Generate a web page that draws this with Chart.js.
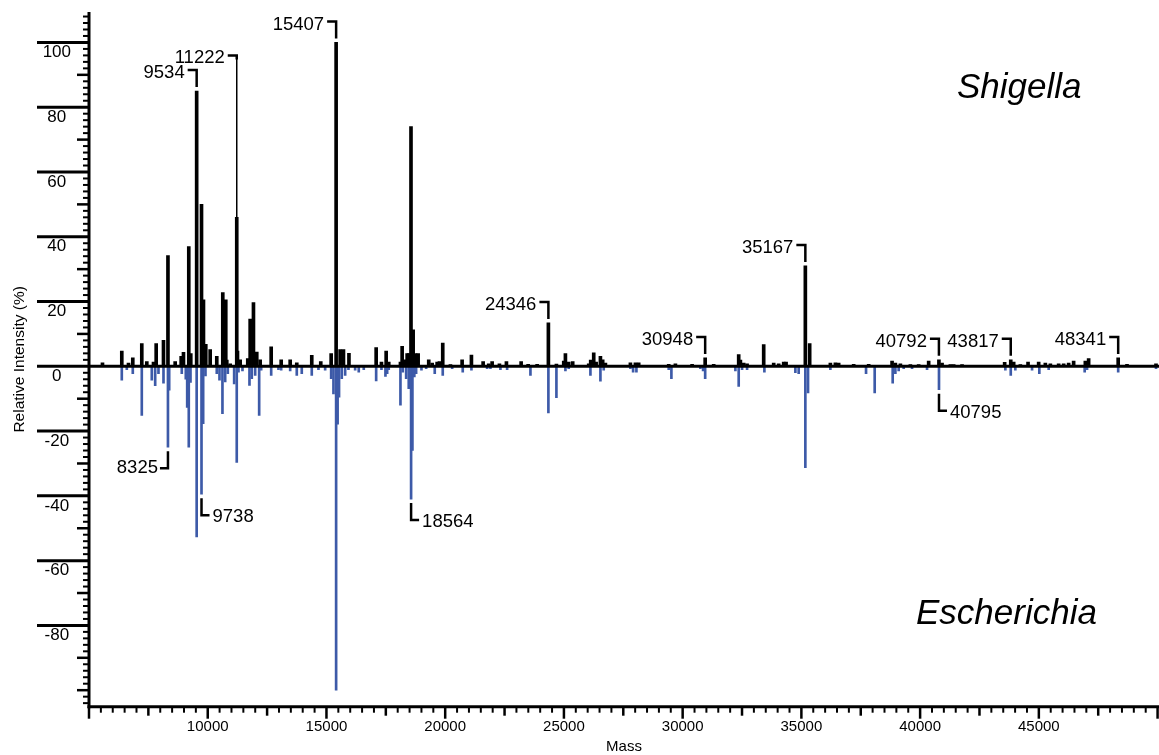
<!DOCTYPE html>
<html>
<head>
<meta charset="utf-8">
<title>Shigella / Escherichia spectra</title>
<script src="https://cdn.jsdelivr.net/npm/chart.js@4.4.1/dist/chart.umd.min.js"></script>
<style>
  html, body { margin: 0; padding: 0; background: #fff; }
  #wrap { width: 1159px; height: 755px; }
</style>
</head>
<body>
<div id="wrap"><canvas id="spectrum" width="1159" height="755"></canvas></div>
<script>
/* ===== peak lists (mass, relative intensity %) ===== */
const shigellaMass = [
  5568, 6381, 6663, 6844, 7223, 7434, 7716, 7829, 8137, 8325, 8629, 8882, 8979, 9202, 9286,
  9534, 9738, 9821, 9918, 10103, 10381, 10634, 10760, 10802, 10945, 11222, 11253, 11366, 11686,
  11787, 11926, 12065, 12208, 12672, 13093, 13472, 13750, 14381, 14760, 15198, 15407, 15577,
  15716, 15947, 17093, 17316, 17514, 17623, 18116, 18187, 18297, 18398, 18465, 18560, 18651,
  18747, 18861, 19307, 19451, 19661, 19758, 19897, 20221, 20713, 21105, 21598, 21834, 21977,
  22284, 22579, 23198, 23493, 23872, 24346, 24684, 24992, 25063, 25202, 25370, 26044, 26128,
  26255, 26356, 26537, 26633, 26747, 27800, 28011, 28149, 29413, 29695, 30398, 30948, 31307,
  32360, 32432, 32570, 32713, 33413, 33834, 34044, 34255, 34356, 35167, 35349, 36221, 36432,
  36570, 37202, 37834, 38819, 38958, 39169, 39590, 39939, 40360, 40792, 40924, 41274, 41413,
  41766, 43560, 43817, 43940, 44221, 44545, 44992, 45274, 45485, 45834, 46045, 46255, 46465,
  46958, 47097, 48341, 48713, 49934
];
const shigellaIntensity = [
  1.1, 4.7, 1.0, 2.6, 7.0, 1.5, 1.3, 7.0, 8.0, 34.2, 1.5, 3.1, 4.3, 37, 3.9,
  85, 50, 20.5, 6.8, 5.2, 3.1, 22.8, 20.5, 1.9, 0.8, 46, 4.7, 2.0, 2.4,
  14.6, 19.7, 4.4, 2.0, 6.0, 2.0, 2.0, 1.1, 3.4, 1.5, 3.9, 100, 5.2,
  5.2, 4.0, 5.8, 1.3, 4.7, 1.3, 1.3, 6.2, 2.0, 3.9, 3.9, 74, 11.3,
  3.9, 3.9, 2.0, 1.0, 1.3, 1.5, 7.2, 0.5, 2.0, 3.5, 1.5, 0.8, 1.5,
  0.8, 1.5, 1.5, 0.6, 0.6, 13.4, 0.7, 1.6, 3.9, 1.3, 1.5, 0.8, 1.9,
  4.2, 1.3, 3.1, 2.0, 1.0, 1.1, 1.1, 1.1, 0.6, 0.8, 0.6, 2.6, 0.6,
  3.6, 1.9, 1.0, 0.8, 6.7, 1.0, 0.8, 1.3, 1.3, 31, 7.0, 1.0, 1.1,
  1.0, 0.6, 0.6, 1.6, 1.0, 0.8, 0.5, 0.5, 1.6, 2.0, 1.0, 0.5, 0.5,
  0.5, 1.2, 2.0, 1.3, 0.5, 1.3, 1.3, 1.0, 0.8, 0.8, 0.8, 1.0, 1.6,
  1.6, 2.4, 2.6, 0.6, 0.8
];

const escherichiaMass = [
  6381, 6592, 6844, 7223, 7644, 7787, 7926, 8137, 8325, 8377, 8907, 9076, 9135, 9202, 9274,
  9534, 9738, 9808, 9905, 10381, 10495, 10620, 10735, 10845, 11113, 11222, 11295, 11463, 11758,
  11855, 11998, 12166, 12250, 12672, 12979, 13093, 13472, 13750, 13960, 14381, 14663, 14945,
  15198, 15295, 15407, 15470, 15530, 15644, 15787, 15926, 16208, 16360, 16571, 17093, 17316,
  17484, 17556, 17623, 18116, 18213, 18356, 18465, 18564, 18620, 18700, 18776, 19000, 19198,
  19560, 19897, 20293, 20739, 21105, 21766, 21905, 22326, 22608, 23590, 24346, 24684, 25063,
  25202, 26116, 26537, 26676, 27800, 27914, 28053, 29413, 29526, 30747, 30861, 30948, 32221,
  32360, 32502, 32713, 33442, 34747, 34886, 35167, 35280, 36221, 37723, 38087, 38845, 38958,
  39097, 39308, 39660, 40292, 40795, 43590, 43817, 44010, 44714, 45020, 45414, 46930, 47030,
  48341, 49934
];
const escherichiaIntensity = [
  -4.3, -1.0, -2.3, -15.2, -4.3, -6.0, -2.3, -5.2, -25, -7.4, -2.3, -4.0, -12.7, -25, -5.0,
  -52.7, -39.5, -17.7, -3.0, -2.3, -4.3, -14.6, -4.8, -2.3, -5.4, -29.7, -1.8, -1.4, -5.9,
  -3.8, -2.8, -15.2, -1.2, -2.8, -1.0, -1.2, -1.4, -2.8, -2.3, -2.8, -1.0, -1.2,
  -3.8, -8.5, -100, -17.9, -9.5, -3.8, -2.8, -1.0, -1.2, -1.8, -1.0, -4.5, -1.0,
  -3.1, -2.3, -1.0, -12.0, -1.8, -3.8, -6.9, -41, -26, -3.3, -2.3, -1.2, -0.7,
  -2.3, -2.8, -0.7, -1.8, -1.2, -0.7, -0.7, -1.0, -1.0, -2.8, -14.4, -9.7, -1.4,
  -0.7, -2.8, -4.6, -1.2, -0.7, -1.8, -1.8, -1.0, -3.8, -0.7, -1.4, -3.8, -1.4,
  -6.2, -1.0, -1.0, -1.8, -2.0, -2.3, -31.3, -8.2, -1.0, -2.3, -8.2, -5.2, -2.3,
  -1.4, -0.7, -0.7, -1.0, -7.2, -1.2, -2.8, -1.2, -1.2, -2.3, -1.0, -1.8, -1.0,
  -1.8, -0.7
];

const xTickLabels = [10000, 15000, 20000, 25000, 30000, 35000, 40000, 45000];
const yTickLabels = [-80, -60, -40, -20, 0, 20, 40, 60, 80, 100];

// peaks that carry a mass callout
const topCallouts    = [9534, 11222, 15407, 24346, 30948, 35167, 40792, 43817, 48341];
const bottomCallouts = [8325, 9738, 18564, 40795];

const FONT = '"Liberation Sans", Arial, Helvetica, sans-serif';
Chart.defaults.font.family = FONT;
Chart.defaults.color = '#000';

const toPoints = (xs, ys) => xs.map((m, i) => ({ x: m, y: ys[i] }));

function line(ctx, x1, y1, x2, y2) {
  ctx.beginPath(); ctx.moveTo(x1, y1); ctx.lineTo(x2, y2); ctx.stroke();
}

/* axis ticks, zero line, callouts, genus names */
const spectrumDecor = {
  id: 'spectrumDecor',
  afterDatasetsDraw(chart, args, opts) {
    const { ctx, chartArea: a, scales: { x, y } } = chart;
    ctx.save();
    ctx.strokeStyle = '#000';
    ctx.fillStyle = '#000';

    // baseline at 0
    ctx.lineWidth = 3;
    const y0 = y.getPixelForValue(0);
    line(ctx, a.left, y0, chart.width, y0);

    // axes
    line(ctx, a.left, a.top, a.left, a.bottom + 1.5);
    line(ctx, a.left - 1.5, a.bottom, chart.width, a.bottom);

    // y ticks: every 2, medium every 10, long at labelled values
    for (let v = Math.ceil(y.min / 2) * 2; v <= y.max; v += 2) {
      const py = y.getPixelForValue(v);
      if (yTickLabels.includes(v)) { ctx.lineWidth = 3; line(ctx, 37, py, a.left, py); }
      else if (v % 10 === 0)      { ctx.lineWidth = 2.5; line(ctx, a.left - 12, py, a.left, py); }
      else                        { ctx.lineWidth = 2; line(ctx, a.left - 6, py, a.left, py); }
    }
    // x ticks: every 500, medium every 2500, long every 5000
    for (let m = 5000; m <= x.max; m += 500) {
      const px = x.getPixelForValue(m);
      const len = m % 5000 === 0 ? 12 : (m % 2500 === 0 ? 9 : 6);
      ctx.lineWidth = m % 2500 === 0 ? 2.5 : 2;
      line(ctx, px, a.bottom, px, a.bottom + len);
    }

    // callouts
    ctx.font = '18.5px ' + FONT;
    ctx.textBaseline = 'middle';
    topCallouts.forEach(m => {
      const h = shigellaIntensity[shigellaMass.indexOf(m)];
      const px = x.getPixelForValue(m);
      const peakY = y.getPixelForValue(h);
      const lifted = opts.lift[m] !== undefined;
      const top = lifted ? y.getPixelForValue(opts.lift[m]) : peakY - 21;
      ctx.lineWidth = 2.5;
      ctx.beginPath();
      ctx.moveTo(px - 9, top); ctx.lineTo(px, top);
      if (!lifted) ctx.lineTo(px, peakY - 4);
      else ctx.lineTo(px, top + 4);
      ctx.stroke();
      if (lifted) { ctx.lineWidth = 1.5; line(ctx, px, top, px, peakY); }
      ctx.textAlign = 'right';
      ctx.fillText(String(m), px - 12, top + 3);
    });
    bottomCallouts.forEach(m => {
      const h = escherichiaIntensity[escherichiaMass.indexOf(m)];
      const px = x.getPixelForValue(m);
      const peakY = y.getPixelForValue(h);
      const low = peakY + 21;
      const left = opts.leftSide.includes(m);
      ctx.lineWidth = 2.5;
      ctx.beginPath();
      ctx.moveTo(px, peakY + 4); ctx.lineTo(px, low); ctx.lineTo(left ? px - 8 : px + 8, low);
      ctx.stroke();
      if (left) { ctx.textAlign = 'right'; ctx.fillText(String(m), px - 10, low); }
      else      { ctx.textAlign = 'left';  ctx.fillText(String(m), px + 11, low + 2); }
    });

    // genus names
    ctx.font = 'italic 35px ' + FONT;
    ctx.textAlign = 'left';
    ctx.fillText('Shigella', 957, 88);
    ctx.fillText('Escherichia', 916, 614);
    ctx.restore();
  }
};

new Chart(document.getElementById('spectrum'), {
  type: 'bar',
  data: {
    datasets: [
      { label: 'Escherichia', data: toPoints(escherichiaMass, escherichiaIntensity),
        backgroundColor: '#3d5aa8', barThickness: 2, grouped: false, order: 2 },
      { label: 'Shigella', data: toPoints(shigellaMass, shigellaIntensity),
        backgroundColor: '#000', barThickness: 3, grouped: false, order: 1 }
    ]
  },
  options: {
    responsive: false,
    animation: false,
    devicePixelRatio: 1,
    layout: { padding: { top: 12, right: 0, left: 0, bottom: 0 } },
    plugins: {
      legend: { display: false },
      tooltip: { enabled: false },
      spectrumDecor: { lift: { 11222: 96 }, leftSide: [8325] }
    },
    scales: {
      x: {
        type: 'linear',
        offset: false,
        min: 5000,
        max: 50060,
        afterBuildTicks: s => { s.ticks = xTickLabels.map(v => ({ value: v })); },
        afterFit: s => { s.height = 48.3; s.paddingLeft = 0; s.paddingRight = 0; },
        grid: { display: false, drawTicks: false },
        border: { display: false },
        ticks: { font: { size: 15 }, padding: 11, maxRotation: 0, autoSkip: false,
                 callback: v => String(v) },
        title: { display: true, text: 'Mass', font: { size: 15 }, padding: { top: 0, bottom: -1 } }
      },
      y: {
        min: -105.1,
        max: 109.4,
        afterBuildTicks: s => { s.ticks = yTickLabels.map(v => ({ value: v })); },
        afterFit: s => { s.width = 89; s.paddingTop = 0; s.paddingBottom = 0; },
        grid: { display: false, drawTicks: false },
        border: { display: false },
        ticks: { font: { size: 17 }, padding: 18, crossAlign: 'center', labelOffset: 10,
                 callback: v => String(v) },
        title: { display: true, text: 'Relative Intensity (%)', font: { size: 15.5 },
                 padding: { top: 10, bottom: 0 } }
      }
    }
  },
  plugins: [spectrumDecor]
});
</script>
</body>
</html>
